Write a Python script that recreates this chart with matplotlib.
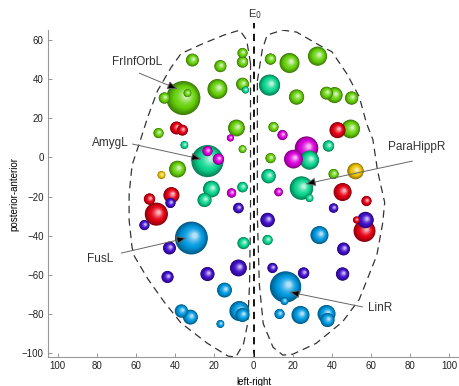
import numpy as np
import matplotlib
matplotlib.use("Agg")
import matplotlib.pyplot as plt
from matplotlib.patches import Circle

plt.rcParams["font.family"] = ["Liberation Sans", "DejaVu Sans"]

# node positions (left-right, posterior-anterior), sphere radius and module colour
node_x = [-31.2, -16.9, -5.6, -5.6, -35.8, -33.7, -45.5, -18.4, -5.6, -4.1,
          -39.3, -36.3, -48.5, -8.7, -11.8, -35.3, -23.5, -23.5, -17.9, -5.6,
          -38.8, -47.0, -21.5, -25.0, -11.2, -5.6, -53.1, -41.9, -42.4, -49.6,
          -55.7, -7.7, -31.7, -42.9, -5.1, -43.9, -23.5, -7.7, -14.8, -36.8,
          -32.2, -16.9, -7.2, -5.6,
          8.7, 18.4, 32.7, 8.2, 22.0, 37.3, 41.4, 50.1, 10.2, 14.8,
          42.9, 49.6, 27.1, 20.4, 28.6, 38.3, 8.7, 7.7, 12.8, 24.5,
          28.6, 40.9, 52.1, 45.5, 57.7, 40.9, 7.2, 56.7, 57.2, 52.6,
          33.7, 7.2, 46.0, 9.7, 25.6, 45.5, 16.4, 15.8, 13.3, 24.0,
          37.3, 37.8]
node_y = [49.7, 46.6, 53.3, 48.7, 30.3, 32.8, 30.3, 34.9, 37.4, 34.4,
          15.0, 13.9, 12.4, 15.0, 9.9, 6.3, -1.9, 3.2, -0.9, 4.2,
          -6.0, -9.0, -16.2, -21.8, -18.2, -15.2, -21.3, -19.3, -23.3, -29.0,
          -34.6, -25.9, -41.2, -46.3, -43.8, -61.1, -59.6, -56.5, -67.8, -78.5,
          -81.6, -85.1, -78.5, -80.5,
          50.2, 48.2, 51.7, 36.9, 30.8, 32.8, 31.8, 30.3, 15.5, 11.4,
          13.9, 14.5, 4.7, -0.9, -1.4, 5.8, -0.4, -9.6, -17.7, -15.7,
          -20.8, -8.5, -7.0, -17.7, -22.3, -25.9, -32.0, -37.6, -32.0, -32.0,
          -39.7, -42.2, -46.8, -56.5, -59.1, -59.6, -66.2, -73.4, -80.0, -80.5,
          -80.0, -83.1]
node_r = [3.3, 3.1, 2.6, 2.9, 8.7, 2.0, 2.9, 5.1, 3.3, 1.8,
          3.3, 2.8, 2.6, 4.3, 1.8, 2.0, 8.2, 2.6, 2.9, 2.0,
          4.3, 2.0, 4.3, 3.6, 2.4, 2.7, 2.9, 4.1, 2.6, 5.9,
          2.6, 2.7, 8.4, 3.3, 3.1, 3.1, 3.6, 4.3, 3.8, 3.4,
          3.8, 2.0, 5.1, 3.6,
          2.9, 5.1, 4.9, 5.4, 3.9, 3.3, 4.1, 3.4, 2.6, 2.6,
          4.1, 4.8, 6.0, 4.8, 4.9, 2.9, 2.6, 3.7, 2.2, 6.0,
          2.0, 2.6, 4.2, 4.6, 2.6, 2.4, 3.7, 5.6, 4.2, 1.8,
          4.6, 2.6, 3.3, 2.6, 2.9, 3.4, 8.0, 2.0, 2.6, 4.6,
          4.6, 3.6]
node_module = list("GGGGGGGGGT" "RRGGMTTMMG" "GYTTMTRRVR" "VVBVTVVVBB" "BBBB"
                   "GGGTGGGGGM" "RGMMTTGTMT" "TGYRRVVRVR" "BTVVVVBBBB" "BB")

module_colors = {"G": (0.40, 0.82, 0.04), "T": (0.04, 0.84, 0.56),
                 "R": (0.90, 0.00, 0.08), "M": (0.86, 0.00, 0.86),
                 "Y": (0.93, 0.76, 0.00), "V": (0.26, 0.06, 0.80),
                 "B": (0.00, 0.60, 0.88)}

# dashed hemisphere outlines
left_x = [-1.5, -3.5, -7, -15, -26, -37, -42, -49, -54, -58, -62, -63.5, -63.5,
          -62, -60.8, -54, -45.5, -37, -23.5, -13, -9, -5, -3, -2, -1.5, -1.5, -1.5]
left_y = [48, 60, 65, 62.5, 58, 53, 46, 34, 20.5, 8, -4, -19, -32,
          -46, -50.5, -62, -74, -84.6, -95, -101.5, -102, -95, -85, -65, -30, 20, 48]
right_x = [2, 4.5, 7, 14.8, 22, 35, 40, 47.5, 54, 57.7, 61, 63.4, 67, 66, 63,
           54, 45.5, 32, 20, 15, 10, 5, 3, 2, 2, 2]
right_y = [39, 55, 62.5, 65, 64, 56.5, 54, 43, 31, 17.5, 9, -7, -23, -33.5, -50,
           -72.6, -84, -95, -100.6, -101, -97, -85, -65, -30, 20, 39]

# labelled hubs: text position, arrow tail, arrow head
hub_names = ["FrInfOrbL", "AmygL", "ParaHippR", "FusL", "LinR"]
hub_text = [(-59.3, 48.7), (-73.0, 7.3), (83.3, 5.3), (-78.2, -51.9), (64.9, -77.0)]
hub_tail = [(-58.3, 43.0), (-61.8, 6.8), (81.2, -1.9), (-67.5, -48.9), (55.7, -76.4)]
hub_head = [(-38.8, 34.9), (-26.6, -0.9), (26.6, -13.6), (-34.2, -41.2), (18.4, -68.8)]


def ball(ax, x, y, r, rgb, n=20):
    # fake a lit sphere with stacked circles drifting toward the highlight
    base = np.array(rgb)
    dark = base * 0.6
    for k in range(n):
        t = k / (n - 1)
        rad = r * (1 - 0.85 * t)
        cx = x + 0.2 * r * t
        cy = y + 0.15 * r * t
        if t < 0.4:
            col = dark + (base - dark) * (t / 0.4)
        else:
            col = base + (1 - base) * ((t - 0.4) / 0.6) ** 1.5 * 0.7
        ax.add_patch(Circle((cx, cy), rad, facecolor=np.clip(col, 0, 1),
                            edgecolor="none", zorder=2))


fig = plt.figure(figsize=(4.6, 3.86), dpi=100)
ax = fig.add_axes([0.104, 0.075, 0.894, 0.847])
ax.set_xlim(-105, 105)
ax.set_ylim(-102, 65)

ax.plot(left_x, left_y, color="#333333", lw=0.9, dashes=(6, 4), zorder=1)
ax.plot(right_x, right_y, color="#333333", lw=0.9, dashes=(6, 4), zorder=1)
ax.plot([0.5, 0.5], [-102, 68.5], color="black", lw=1.3, dashes=(4, 3),
        zorder=1, clip_on=False)

order = np.argsort(-np.array(node_r), kind="stable")
for i in order:
    ball(ax, node_x[i], node_y[i], node_r[i], module_colors[node_module[i]])

for name, tp, tl, hd in zip(hub_names, hub_text, hub_tail, hub_head):
    ax.annotate("", xy=hd, xytext=tl,
                arrowprops=dict(arrowstyle="-|>,head_length=0.6,head_width=0.25",
                                lw=0.7, mutation_scale=10, shrinkA=0, shrinkB=0,
                                fc="black", ec="#666666"), zorder=4)
    ax.text(tp[0], tp[1], name, ha="center", va="center", fontsize=8.5,
            color="#333333", zorder=5)

ax.text(1, 73, r"E$_0$", ha="center", va="center", fontsize=8,
        color="#333333", clip_on=False)

xt = np.arange(-100, 101, 20)
ax.set_xticks(xt)
ax.set_xticklabels([str(abs(v)) for v in xt])
ax.set_yticks(np.arange(-100, 61, 20))
ax.tick_params(direction="in", length=3, width=0.6, color="#888888",
               labelsize=7, labelcolor="#222222", pad=3)
for s in ["top", "right"]:
    ax.spines[s].set_visible(False)
for s in ["left", "bottom"]:
    ax.spines[s].set_color("#999999")
    ax.spines[s].set_linewidth(0.8)
ax.set_xlabel("left-right", fontsize=7, labelpad=4)
ax.set_ylabel("posterior-anterior", fontsize=7, labelpad=2)

fig.savefig("out.png", dpi=100)
